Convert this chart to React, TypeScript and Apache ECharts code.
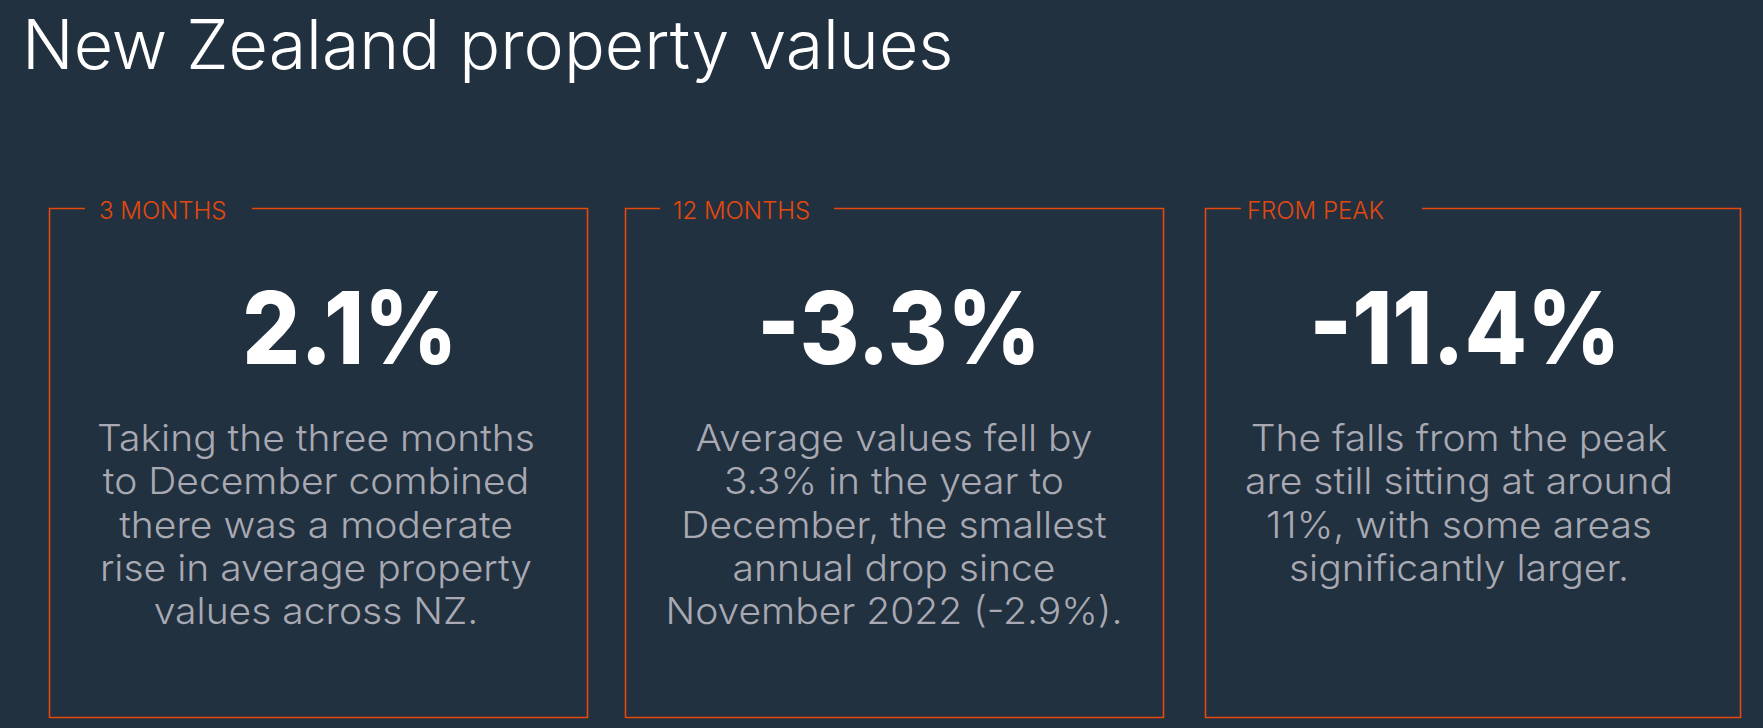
import React, { useEffect, useRef } from "react";
import * as echarts from "echarts";

const titleText = "New Zealand property values";
const periodLabels = ["3 MONTHS", "12 MONTHS", "FROM PEAK"];
const valueLabels = ["2.1%", "-3.3%", "-11.4%"];
const descriptions: string[][] = [
  [
    "Taking the three months",
    "to December combined",
    "there was a moderate",
    "rise in average property",
    "values across NZ.",
  ],
  [
    "Average values fell by",
    "3.3% in the year to",
    "December, the smallest",
    "annual drop since",
    "November 2022 (-2.9%).",
  ],
  [
    "The falls from the peak",
    "are still sitting at around",
    "11%, with some areas",
    "significantly larger.",
  ],
];

const W = 1763;
const H = 728;
const BG = "#22313f";
const ORANGE = "#e5480e";
const GREY = "#a8a9b3";
const FONT = "Inter, 'Open Sans', sans-serif";

// layout
const boxes = [
  { left: 49.5, right: 587.5, gapStart: 85, gapEnd: 252, labelX: 99, numX: 350, textX: 316 },
  { left: 625.5, right: 1163.5, gapStart: 660, gapEnd: 834, labelX: 673, numX: 899, textX: 894 },
  { left: 1205.5, right: 1740.5, gapStart: 1241, gapEnd: 1422, labelX: 1247, numX: 1465, textX: 1459 },
];
const boxTop = 208.5;
const boxBottom = 717.5;
const lineYs = [437, 480, 524, 567, 610];

export default function App() {
  const ref = useRef<HTMLDivElement>(null);
  useEffect(() => {
    document.body.style.margin = "0";
    document.body.style.background = BG;
    if (!ref.current) return;
    const chart = echarts.init(ref.current, null, { renderer: "svg" });
    const elements: any[] = [];
    elements.push({
      type: "text",
      x: 22,
      y: 44,
      style: {
        text: titleText,
        fill: "#ffffff",
        font: `300 68px ${FONT}`,
        textAlign: "left",
        textVerticalAlign: "middle",
      },
    });
    boxes.forEach((b, i) => {
      elements.push({
        type: "polyline",
        shape: {
          points: [
            [b.gapStart, boxTop],
            [b.left, boxTop],
            [b.left, boxBottom],
            [b.right, boxBottom],
            [b.right, boxTop],
            [b.gapEnd, boxTop],
          ],
        },
        style: { stroke: ORANGE, lineWidth: 1.6, fill: null },
      });
      elements.push({
        type: "text",
        x: b.labelX,
        y: 210,
        style: {
          text: periodLabels[i],
          fill: ORANGE,
          font: `300 24px ${FONT}`,
          textAlign: "left",
          textVerticalAlign: "middle",
        },
      });
      elements.push({
        type: "text",
        x: b.numX,
        y: 327,
        scaleX: 0.9,
        style: {
          text: valueLabels[i],
          fill: "#ffffff",
          font: `800 101px ${FONT}`,
          textAlign: "center",
          textVerticalAlign: "middle",
        },
      });
      descriptions[i].forEach((line, j) => {
        elements.push({
          type: "text",
          x: b.textX,
          y: lineYs[j],
          scaleX: 1.055,
          style: {
            text: line,
            fill: GREY,
            font: `300 37px ${FONT}`,
            textAlign: "center",
            textVerticalAlign: "middle",
          },
        });
      });
    });
    chart.setOption({
      animation: false,
      backgroundColor: BG,
      graphic: { elements },
    });
    return () => chart.dispose();
  }, []);
  return <div ref={ref} style={{ width: W, height: H }} />;
}
